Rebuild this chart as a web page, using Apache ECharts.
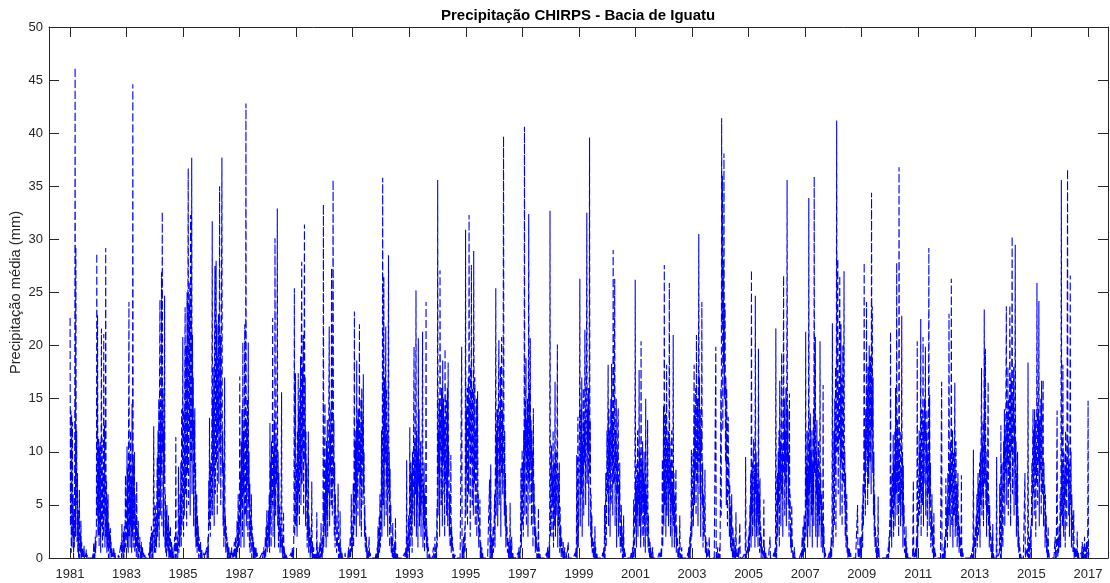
<!DOCTYPE html>
<html>
<head>
<meta charset="utf-8">
<script src="https://cdn.jsdelivr.net/npm/echarts@6.0.0/dist/echarts.min.js"></script>
<style>
html,body{margin:0;padding:0;background:#fff;}
#chart{width:1110px;height:583px;}
</style>
</head>
<body>
<div id="chart"></div>
<script>
// Precipitation values (mm), one value per 5-day step starting Jan 1 of each year
const y1981 = [22.6,3,13.9,0.5,13.5,1,12.8,2,6,0, 4,1,9.5,46.2,2,29.3,5,12,1.5,8, 0.5,4.5,0,3,6.4,0,2,0.5,3.5,0, 1.5,0,1,0,0.5,0,1.2,0,0,0.4, 0,0,0.8,0,0,0.3,0,0,0,0, 0,0,0,0,0,0,0,0,0,0.5, 0,1.5,0,1,0,2,0.5,1.5,3,28.7, 4,22.9,2];
const y1982 = [3,11.2,1,10.5,2,11,0.5,9,21.6,3, 11.3,1,8,2,21.1,4,12.5,1,6,29.2, 2,7.4,0.5,5.5,1,6,0,3.3,1,2.5, 0,2.8,0.5,1.5,0,1,0,0.5,0,0, 1,0,0,0.5,0,0,0,0,0,0, 0,0,0.3,0,0,0,0,0,0,1.5, 0,3.2,0.5,1,0,2.5,0,3,0.5,1.8, 7.8,1,2];
const y1983 = [4,10.5,1,8.5,0.5,13,24.1,2,9.5,1, 12,3,7.5,0.5,14.5,2,44.6,1,9,3, 10,0.5,6,1,3.5,0,7.2,1,2.5,0, 3.5,0,1.5,0.5,2,0,0.5,0,1.5,0, 0,1,0,0,0.5,0,0,0.3,0,0, 0,0,0,0,0,0,0,0,0.5,0, 1.5,0,2,0.5,3,0,1.2,2.5,0,4, 12.4,3.5,0.5];
const y1984 = [2,5,0.5,4,1,6,9.5,2,12,3, 15,1,17.4,24.3,4,14,8,26.9,3,32.6, 10,16,2,12,7,24.7,1,6,0.5,4.5, 0,5,1,3,0.5,4,0,2.5,0,1, 3,0,0.5,1.5,0,1,0,0.5,0,0, 0,2,0,0.5,11.4,0,1,0.5,2,0, 3,8.6,0.5,4,1,6,2,9,1,14, 3,7,20.8];
const y1985 = [9,2,14,4,17,23.6,6,16,20,3, 25,8,22,36.7,5,24,12,26,4,32.3, 18,9,37.7,6,21,11,17,3,13,8, 14.1,2,9,1,5,6,0.5,4,1,3, 0,2,1,0.5,0,1.5,0,0,0.8,0, 0,0,0,0,0.5,0,0,0,0,0, 0,1,0,0.5,2,0,7.3,3,13.2,5, 2,9,4];
const y1986 = [6,13,31.7,4,15,8,18,3,20,27.5, 6,16,28,9,22,4,19,12,23,7, 17,35,10,21,5,14,27,37.7,8,12, 3,9,1,6,17,2,4,0.5,3,1, 2,0,1.5,0,0.5,1,0,0,0.5,0, 0,0,1,0,0,0,0.5,0,0,1.5, 0,0.5,2,0,1,0,3.5,0.5,2,6, 1,4,0.5];
const y1987 = [17.1,3,8,1,11,5,14,2,20.3,6, 12,1,15,22,4,9,42.8,3,13,7, 15,2,20.3,5,10,1,7,0.5,4,2, 6,0,3,1,2,0,1.5,0,0.5,1, 0,0,1,0,0,0.5,0,0,0,0, 0,0,0,0,0,0,0,0,0.5,0, 0,0,1,0,0.5,0,2,0,3,1, 4.5,0.5,3];
const y1988 = [2,4.5,1,6,0.5,12.7,3,9,1,11, 5,8,22.6,2,10,6,13,1,30.1,9, 4,11,7,14,32.9,3,10,1,8,2, 5,0.5,3,1,6,15.6,0.5,2,0,1, 4.4,0,1,0,0.5,0,0,0.3,0,0, 0,0,0,0,0,0,0,0,0,0, 0.5,0,0,1,0,0.5,0,4,25.4,2, 6,17.4,3];
const y1989 = [5,9,2,12,4,17.4,6,14,3,16, 8,19,5,20,27.9,7,18,10,21,4, 15,31.4,9,17,3,12,6,9,1,5, 2,11.9,0.5,4,1,3,0,2,0.5,1, 7.2,0,1.5,0,0.5,1,0,0,0.5,0, 0,0.5,0,4.3,0,0,1,0,0.5,0, 0,1.5,0,0.5,3.3,0,1,0,2,0.5, 33.3,1,6];
const y1990 = [3,14.6,2,9,1,11,4,13,2,10, 6,15,21.8,3,12,8,14,5,27.3,11, 4,16,35.6,7,13,2,9,1,6,3, 4,0.5,2,1,3,7,0,1.5,0.5,0, 4.4,0,1,0,0,0.5,0,0,0,0, 0,0,0,0.5,0,0,0,0,0,0, 0,0,1,0,0.5,0,2,0,1,6, 0.5,3,1];
const y1991 = [2,7,1,9,23.2,3,11,5,12,2, 18.6,6,13,4,14,8,11,22,3,12, 7,15,2,16,9,13,5,17.3,6,10, 2,5,1,3,0.5,2,0,1,0,0.5, 0,0,2,0,0,0.5,0,0,0,0, 0,0,0,0,0,0,0,0,0,0, 0.5,0,0,1,0,3,0,1.5,4,0.5, 6,1,3];
const y1992 = [4,12,2,10,35.8,5,15,26.5,3,17, 9,14,21.8,4,16,7,12,2,13,28.5, 6,10,1,8.4,3,5,0.5,2,1,0, 3.3,0,1,0.5,0,1.5,0,3.8,0,0.5, 0,0,0.5,0,0,0,0,0,0,0, 0,0,0,0,0,0,0,0,0,0, 0,0.5,0,0,1,0,9.2,0,2,0, 1,4,0.5];
const y1993 = [3,12.3,1,6,9,2,8,0.5,10,4, 7,13,19.9,3,11,6,9,25.2,2,12, 5,10,1,20.7,7,14,3,9,4,11, 2,8,5,12,21.3,1,7,3,9,0.5, 6,2,4,24.1,1,3,0,2,0.5,1, 0,0,0.5,0,0,0,0,0,0,0, 0,0,1,0,0.5,0,2,0,0.5,1, 0,4.7,1];
const y1994 = [35.6,4,12,8,15,2,27.1,10,14,5, 16,11,3,18.6,9,15,6,13,2,19.7, 12,7,15,4,11,16,3,18.4,8,10, 2,6,1,4,9.7,0.5,3,1,2,0, 1,0,0.5,0,0,0.3,0,0,0,0, 0,0,0,0,0,0,0,0,0,0, 0,0,19.9,0,1,0,0.5,2,0,1, 3,0.5,30.9];
const y1995 = [4,14,8,16,3,12,17,6,32.3,11, 15,2,18,9,27.6,13,5,16,10,4, 28.9,14,7,17,3,12,9,15,2,8, 15.7,4,6,1,3,2,5.5,0,1.5,0.5, 0,1,0,0.5,0,0,0,0,0,0, 0,0,0,0,0,0,0,0,0,0, 0,7.4,0,1,8.8,0,0.5,2,0,1, 3,0.5,2];
const y1996 = [2,6,1,10,25.4,4,12,7,14,3, 11,16,20.5,5,13,9,18,2,15,20.8, 8,14,6,17,39.7,10,4,12,3,8, 1,5,2,3,0.5,2,1,0,1.5,0, 0.5,5.2,0,1,0,2,0,0,0.5,0, 0,0,0,0,0,0,0,0,0,0, 0,0.5,0,0,1,0,0.5,0,2,8.5, 1,4,10.2];
const y1997 = [3,9,2,12,6,40.6,4,14,10,18.8, 3,13,8,15,2,11,32.4,7,16,5, 20.7,9,13,3,12,6,10,1,14.1,4, 7,2,5,0.5,3,1,2,0,1,0, 0.5,4.7,0,1,0,0.5,0,0,0,0, 0,0,0,0,0,0,0,0,0,0, 0,0,0.5,0,0,1,0,0.5,0,1.5, 0,32.7,2];
const y1998 = [4,7,10.6,2,8,5,12,1,9,3, 6,16.6,2,10,4,7,11,20.1,1,8, 3,6,9,0.5,4.8,1,3,0,2,0.5, 1,0,1.5,0,0.5,0,1,0,0,0, 0.5,0,0,0,0,1.5,0,0,0,0, 0,0,0,0,0,0,0,0,0,0, 0,0,0,0.5,0,1,0,9.7,0,3, 13.3,1,5];
const y1999 = [5,12,26.3,3,10,14,6,17,2,11, 8,16,4,13,9,21.5,15,5,12,17, 32.5,7,14,10,16,3,11,39.6,8,13, 2,6,1,4,0.5,2,1,0,1.5,0, 0.5,3,0,1,0,0,0.5,0,0,0, 0,0,0,0,0,0,0,0,0,0, 0,0.5,0,0,1,0,5,0,2,8, 1,4,12];
const y2000 = [6,11,18.2,3,14,8,12,2,10,15, 5,18.3,9,13,4,29,11,7,14,26.3, 3,12,9,15,1,10,6,13,14.1,2, 7,4,9,1,3,0.5,5,1,3,0, 2,0,4,0,1,0,0.5,0,0,0, 0,0,0,0,0,0,0,0,0,0, 0,0,0.5,0,0,1,0,0.5,5.5,0, 1,2,26.2];
const y2001 = [3,7,1,9,4,12,2,8,5,17.7, 3,10,6,1,20.4,4,9,2,11,5, 8,1,10,3,7,0.5,15,4,6,2, 9,13,1,4,0.5,2,0,1.5,0,1, 0,0.5,0,0,1,0,0,0,0,0, 0,0,0,0,0,0,0,0,0,0, 0,0.5,0,0,0.5,0,1,0,2,9.3, 1,4,14.3];
const y2002 = [3,27.6,5,9,13.6,2,10,18.2,4,11, 7,12,3,8,25.9,6,11,2,9,5, 12,1,7,4,21,3,8,1,6,2, 4,8.4,0.5,3,1,2,0,1,0.5,0, 1,4,0,0.5,0,0,1,0,0,0, 0,0,0,0,0,0,0,0,0,0, 0,0,0.5,0,1,0,0,2,0,3, 1,10.2,2];
const y2003 = [2,6,10,3,12,18.2,5,14,8,16, 4,21,11,7,15,3,13,30.5,9,17, 6,14,2,12,10,24.1,5,9,1,6, 3,2,4,8.3,0.5,2,1,0,1.5,0, 0.5,0,0,1,2,0,0,0,0,0, 0,0,0,0,0,0,0,0,0,0, 0,19.9,0,0.5,0,0,1,0,0,0.5, 0,1,0];
const y2004 = [8,16,4,41.4,22,36,12,28,18,38.1, 15,24,23.7,9,17,5,16,11,3,12, 13.3,6,9,2,7,4,1,5,0.5,6, 2,0,3,1,0,2,0.5,0,1,0, 4.3,0,0,0.5,0,0,1,0,0,0, 3.3,0,0,0,0,0,0,0,0,0, 0,0,0,0.5,0,9.5,1,0,0,0, 1,0.5,2];
const y2005 = [1,3,0.5,5,2,8,1,27.1,4,9, 2,7,10,11.2,3,8,1,24.7,6,10, 2,9,4,7,1,19.7,3,6,0.5,7.5, 1,3,0,2,0.5,1,0,0,0.5,5.5, 0,1,0,0,0.5,0,0,0,0,0, 0,0,0,0,0,2,0,0,0,0, 0,0,0,0,0,0.5,0,0,1,0, 21.6,2,0];
const y2006 = [3,8,2,10,5,12,1,16.7,7,11, 3,14,19.3,6,10,2,13,26.6,8,15, 4,12,7,16,3,11,35.6,9,14,5, 10,2,15.5,4,6,1,3,0.5,5,2, 1,0,0.5,0,0,1,0,0,0,0, 0,0,0,0,0,0,0,0,0,0, 0,0,0.5,0,0,2,0,3,0,1, 4,0.5,2];
const y2007 = [4,21.3,2,9,5,12,1,8,3,33.9, 6,11,2,13.6,7,10,4,12,1,9, 5,14,3,35.9,8,11,20.8,2,10,6, 13,1,9,4,11,2,7,3,20.4,5, 8,1,6,2,4,0.5,16.3,1,3,0, 1,0,0.5,0,0,0,0,0,0,0, 0,0,0.5,0,0,1,0,2,0,3, 22.1,2,1];
const y2008 = [5,12,3,15,8,18,2,14,41.2,10, 20,28.2,6,16,11,19,26.6,4,13,22, 9,17,3,14,20,7,12,27,5,10, 2,8,1,4,6,0.5,2,0,1,0.5, 0,1,0,0,0.5,0,0,0,0,0, 0,0,0,0,0,0,0,0,0,0, 0,0,5,0.5,0,0,1,0,2,0, 1,2,0.5];
const y2009 = [2,5,1,7,3,9,27.8,6,12,4, 14,8,24.1,10,16,5,18,11,7,20, 13,9,19,15,6,34.4,12,23.7,8,17, 4,10,2,6,1,3,0.5,2,0,1, 0,0.5,5.8,0,1,0,0,0,0,0, 0,0,0,0,0,0,0,0,0,0, 0,0,0,0,0,0,0.5,0,1,0, 2,0.5,3.6];
const y2010 = [3,21.3,2,6,1,8,4,7,11.6,2, 9,5,12,3,16,6,10,27.8,4,13, 7,11,2,36.8,9,5,12,3,8,6, 22.8,4,10,1,8.7,3,5,0.5,2,1, 0,3,0,1,0,0.5,0,0,0,0, 0,0,0,0,0,0,0,0,0,0, 7.3,0,0,0.5,0,0,1,0,2,0, 20.4,1,4];
const y2011 = [3,8,12,4,10,6,22.5,2,11,14, 5,9,20.8,3,13,7,15,11,19.9,4, 12,8,14,2,10,6,13,29.2,3,15.4, 5,9,1,4,2,6,0.5,3,1,0, 4.3,0,1,0,0.5,0,0,0,0,0, 0,0,0,0,0,0,0,0,0,0, 16.6,0,0,0.5,0,0,1,0,2,0, 1,7.5,3];
const y2012 = [2,5,1,8,3,10,23,4,9,2, 11,6,26.3,3,8,12,1,7,10,4, 9,16.5,2,6,11,3,7,1,5,8, 2,4,0.5,3,1,2,0,1,7.8,0, 1,0,0.5,0,0,0,0,0,0,0, 0,0,0,0,0,0,0,0,0,0, 0,0,0,0,0.5,0,0,1,0,10.2, 0,1,2];
const y2013 = [1,3,0.5,4,2,6,1,5,8,2, 7,3,9,1,10,5,12,17.9,4,11, 6,13,3,9,23.4,7,12,19.7,5,10, 2,8,4,11,16.6,3,6,1,5,2, 3,0.5,1,0,2,0,3.2,0,0.5,0, 0,0,0,0,0,0,9.5,0,0,0, 0,0,0,0.5,7,1,0,12.5,0,2, 9,4,1];
const y2014 = [4,11,6,14,3,12,8,16,23.7,5, 13,9,18,4,15,11,7,23.8,14,3, 17,10,19,30.3,6,15,12,18,4,13, 9,29.5,5,11,2,8,3,10,1,4, 0.5,2,0,1,0,0.5,0,0,0,0, 0,0,0,0,0,0,8,0,0,0, 0,0,1,0,18.4,0,1,0,2,0, 0.5,3,1];
const y2015 = [5,9,3,11,14,6,12,4,14,8, 13,2,10,7,25.9,12,5,14,9,24.2, 3,13,8,11,15,4,16.7,10,6,12, 16.8,3,9,5,7,1,6,2,4,0.5, 2,0,1,3,0,0.5,0,0,0,0, 0,0,0,0,0,0,0,0,0,0, 0,2,0,0.5,0,0,13.9,1,0,2, 0.5,3,1];
const y2016 = [2,6,1,8,35.6,4,9,3,18.2,7, 2,10,5,8,1,12,6,9,3,17.8, 36.6,7,11,4,9,2,8,26.6,5,10, 1,6,3,4,0.5,2,4.5,0,1,0.5, 0,1,0,0.5,0,2.5,0,0,0.5,0, 0,0,0,0,0,0.5,0,0,1.5,0, 0,1,0,0,2,0,0,1,0,1.5, 0,0.5,1];
const y2017 = [14.8,0,0.5];

const seriesYears = [1981,1982,1983,1984,1985,1986,1987,1988,1989,1990,1991,1992,1993,1994,1995,1996,1997,1998,1999,2000,2001,2002,2003,2004,2005,2006,2007,2008,2009,2010,2011,2012,2013,2014,2015,2016,2017];
const yearlyValues = [y1981,y1982,y1983,y1984,y1985,y1986,y1987,y1988,y1989,y1990,y1991,y1992,y1993,y1994,y1995,y1996,y1997,y1998,y1999,y2000,y2001,y2002,y2003,y2004,y2005,y2006,y2007,y2008,y2009,y2010,y2011,y2012,y2013,y2014,y2015,y2016,y2017];
const xTickLabels = [1981,1983,1985,1987,1989,1991,1993,1995,1997,1999,2001,2003,2005,2007,2009,2011,2013,2015,2017];
const titleText = 'Precipitação CHIRPS - Bacia de Iguatu';
const yAxisTitle = 'Precipitação média (mm)';

const data = [];
yearlyValues.forEach(function (arr, k) {
  arr.forEach(function (v, i) {
    data.push([seriesYears[k] + (i * 5 + 2) / 365.25, v]);
  });
});

const axisColor = '#262626';
const font = 'Liberation Sans, Arial, Helvetica, sans-serif';
const xMin = 1980.26, xMax = 2017.71;

const chart = echarts.init(document.getElementById('chart'), null, {renderer: 'canvas'});
chart.setOption({
  animation: false,
  backgroundColor: '#fff',
  title: {
    text: titleText,
    left: 441,
    top: 8,
    padding: 0,
    textStyle: {fontFamily: font, fontSize: 15, fontWeight: 'bold', color: '#000'}
  },
  grid: {left: 49, right: 2, top: 27, bottom: 25, containLabel: false, outerBoundsMode: 'none'},
  xAxis: [{
    type: 'value', min: xMin, max: xMax, position: 'bottom',
    axisLine: {show: true, onZero: false, lineStyle: {color: axisColor, width: 1}},
    axisTick: {show: true, inside: true, length: 10, customValues: xTickLabels, lineStyle: {color: axisColor}},
    axisLabel: {show: true, customValues: xTickLabels, margin: 10, color: axisColor, fontFamily: font, fontSize: 13,
      formatter: function (v) { return String(Math.round(v)); }},
    splitLine: {show: false}
  }, {
    type: 'value', min: xMin, max: xMax, position: 'top',
    axisLine: {show: true, onZero: false, lineStyle: {color: axisColor, width: 1}},
    axisTick: {show: true, inside: true, length: 10, customValues: xTickLabels, lineStyle: {color: axisColor}},
    axisLabel: {show: false},
    splitLine: {show: false}
  }],
  yAxis: [{
    type: 'value', min: 0, max: 50, interval: 5, position: 'left',
    name: yAxisTitle, nameLocation: 'middle', nameGap: 26, nameMoveOverlap: false,
    nameTextStyle: {fontFamily: font, fontSize: 14.7, color: axisColor},
    axisLine: {show: true, onZero: false, lineStyle: {color: axisColor, width: 1}},
    axisTick: {show: true, inside: true, length: 10, lineStyle: {color: axisColor}},
    axisLabel: {show: true, margin: 6, color: axisColor, fontFamily: font, fontSize: 13},
    splitLine: {show: false}
  }, {
    type: 'value', min: 0, max: 50, interval: 5, position: 'right',
    axisLine: {show: true, onZero: false, lineStyle: {color: axisColor, width: 1}},
    axisTick: {show: true, inside: true, length: 10, lineStyle: {color: axisColor}},
    axisLabel: {show: false},
    splitLine: {show: false}
  }],
  series: [{
    type: 'line',
    xAxisIndex: 0, yAxisIndex: 0,
    data: data,
    showSymbol: false,
    symbol: 'none',
    sampling: null,
    silent: true,
    lineStyle: {color: '#0000ff', width: 1.1, type: [8, 3]},
    z: 1
  }]
});
</script>
</body>
</html>
